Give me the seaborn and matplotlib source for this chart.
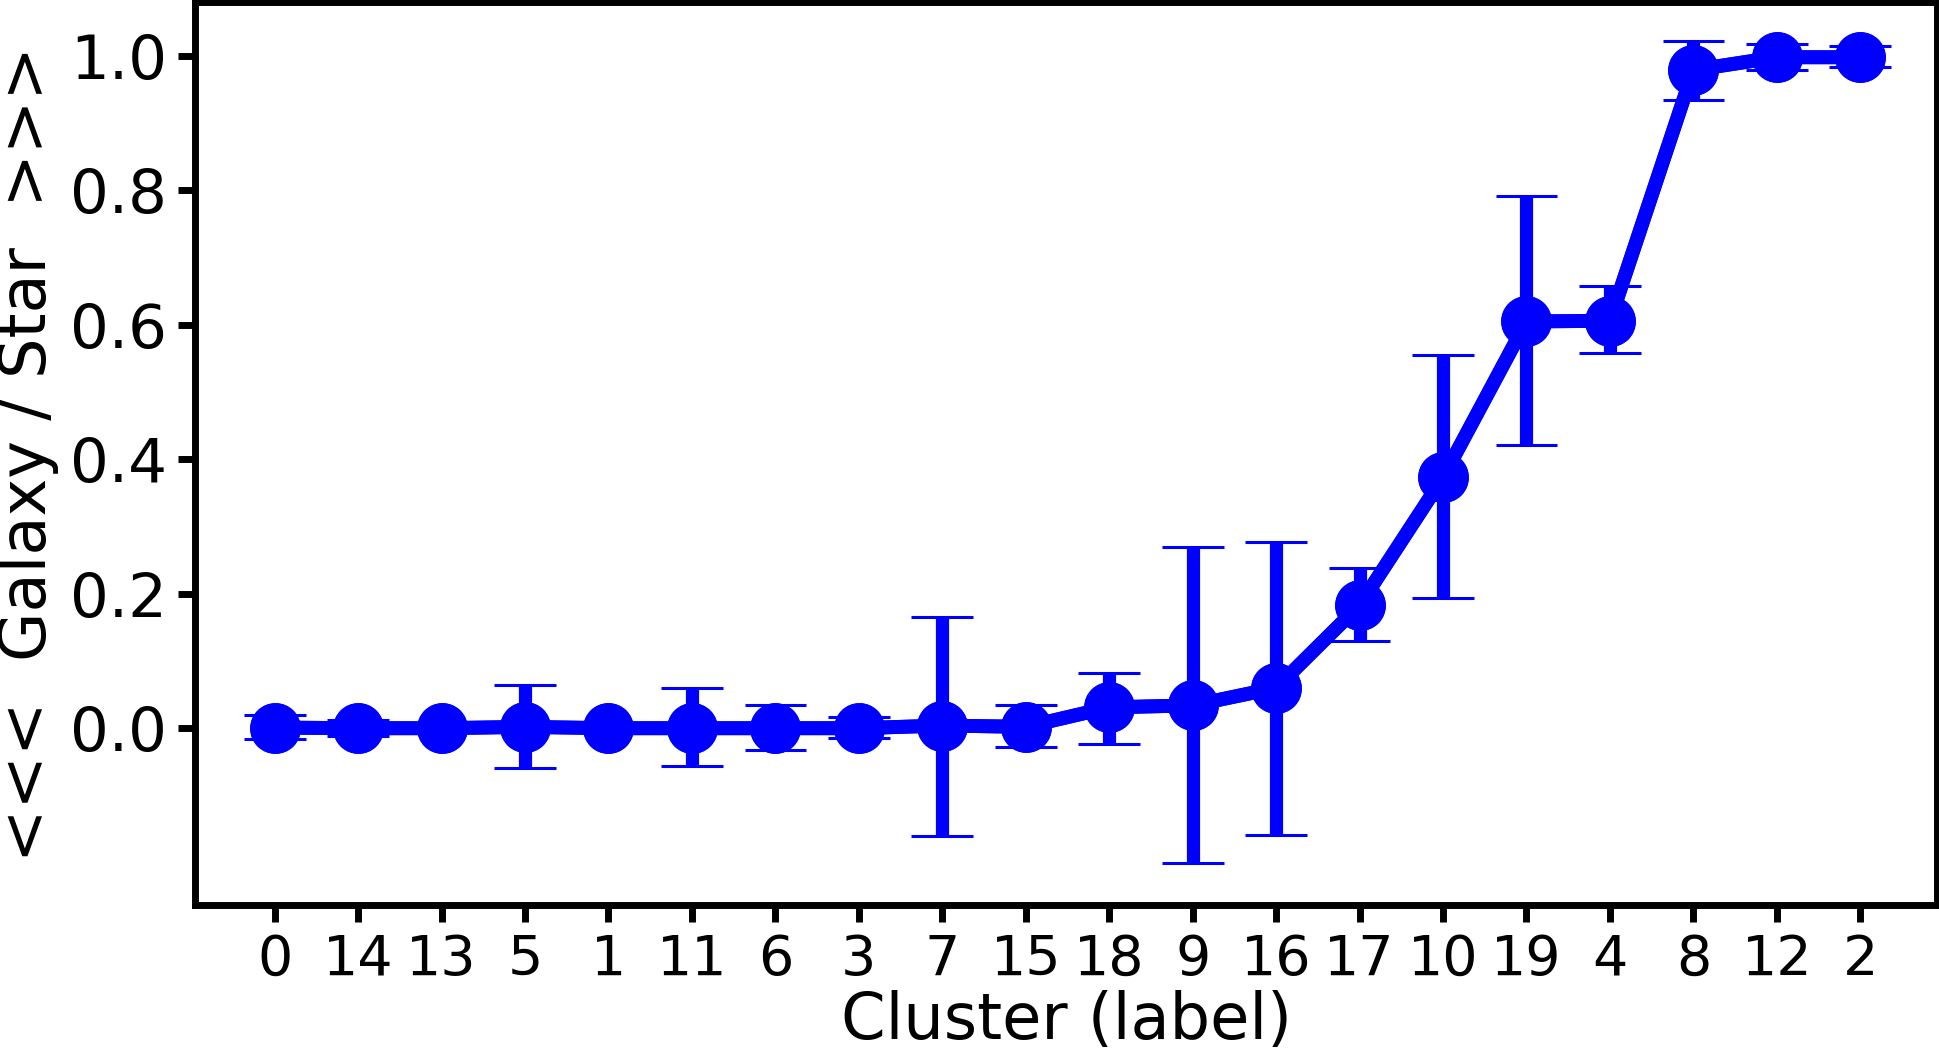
import pandas as pd
import matplotlib
matplotlib.use("Agg")
import matplotlib.pyplot as plt
import seaborn as sns

# cluster order along the x axis (sorted by galaxy/star fraction)
clusters = ["0", "14", "13", "5", "1", "11", "6", "3", "7", "15",
            "18", "9", "16", "17", "10", "19", "4", "8", "12", "2"]
# central value per cluster
frac = [0.001, 0.0, 0.0, 0.002, 0.0, 0.0, 0.0, 0.0, 0.004, 0.002,
        0.031, 0.034, 0.060, 0.183, 0.373, 0.605, 0.606, 0.979, 0.998, 0.998]
# lower / upper ends of the error bars
err_lo = [-0.016, -0.012, 0.0, -0.059, 0.0, -0.056, -0.032, -0.015, -0.161, -0.028,
          -0.023, -0.201, -0.159, 0.130, 0.193, 0.421, 0.558, 0.935, 0.979, 0.984]
err_hi = [0.019, 0.012, 0.0, 0.064, 0.0, 0.060, 0.034, 0.016, 0.166, 0.034,
          0.082, 0.270, 0.277, 0.239, 0.555, 0.791, 0.658, 1.022, 1.018, 1.015]

# long table: median gives the central value, full percentile range gives the bars
rows = []
for c, lo, m, hi in zip(clusters, err_lo, frac, err_hi):
    for v in (lo, m, hi):
        rows.append({"cluster": c, "value": v})
df = pd.DataFrame(rows)

sns.set_style("ticks")
plt.rcParams["font.family"] = ["DejaVu Sans"]
plt.rcParams["text.color"] = "black"
plt.rcParams["axes.labelcolor"] = "black"
plt.rcParams["xtick.color"] = "black"
plt.rcParams["ytick.color"] = "black"

fig, ax = plt.subplots(figsize=(19.39, 10.52), dpi=100)
fig.subplots_adjust(left=0.1006, right=0.999, top=0.998, bottom=0.1397)

blue = "#0000ff"
# thin caps
sns.pointplot(data=df, x="cluster", y="value", order=clusters,
              estimator="median", errorbar=("pi", 100), capsize=0.74,
              color=blue, markersize=29, linewidth=10,
              err_kws={"linewidth": 2.2, "solid_capstyle": "butt"}, ax=ax)
# thick error bar stems, line and markers on top
sns.pointplot(data=df, x="cluster", y="value", order=clusters,
              estimator="median", errorbar=("pi", 100),
              color=blue, markersize=29, linewidth=10,
              err_kws={"linewidth": 9.5, "solid_capstyle": "butt"}, ax=ax)

ax.set_ylim(-0.263, 1.08)
ax.set_xlim(-0.954, 19.92)
ax.set_yticks([0.0, 0.2, 0.4, 0.6, 0.8, 1.0])
ax.set_yticklabels(["0.0", "0.2", "0.4", "0.6", "0.8", "1.0"])

ax.set_xlabel("Cluster (label)", fontsize=46, labelpad=2)
ax.set_ylabel("<<<  Galaxy / Star  >>>", fontsize=46, labelpad=8)

ax.tick_params(axis="x", labelsize=40, length=12, width=5, pad=8, colors="black")
ax.tick_params(axis="y", labelsize=44, length=12, width=5, pad=8, colors="black")
for side in ["left", "right", "top", "bottom"]:
    ax.spines[side].set_visible(True)
    ax.spines[side].set_linewidth(5)
    ax.spines[side].set_color("black")

fig.savefig("out.png", dpi=100)
